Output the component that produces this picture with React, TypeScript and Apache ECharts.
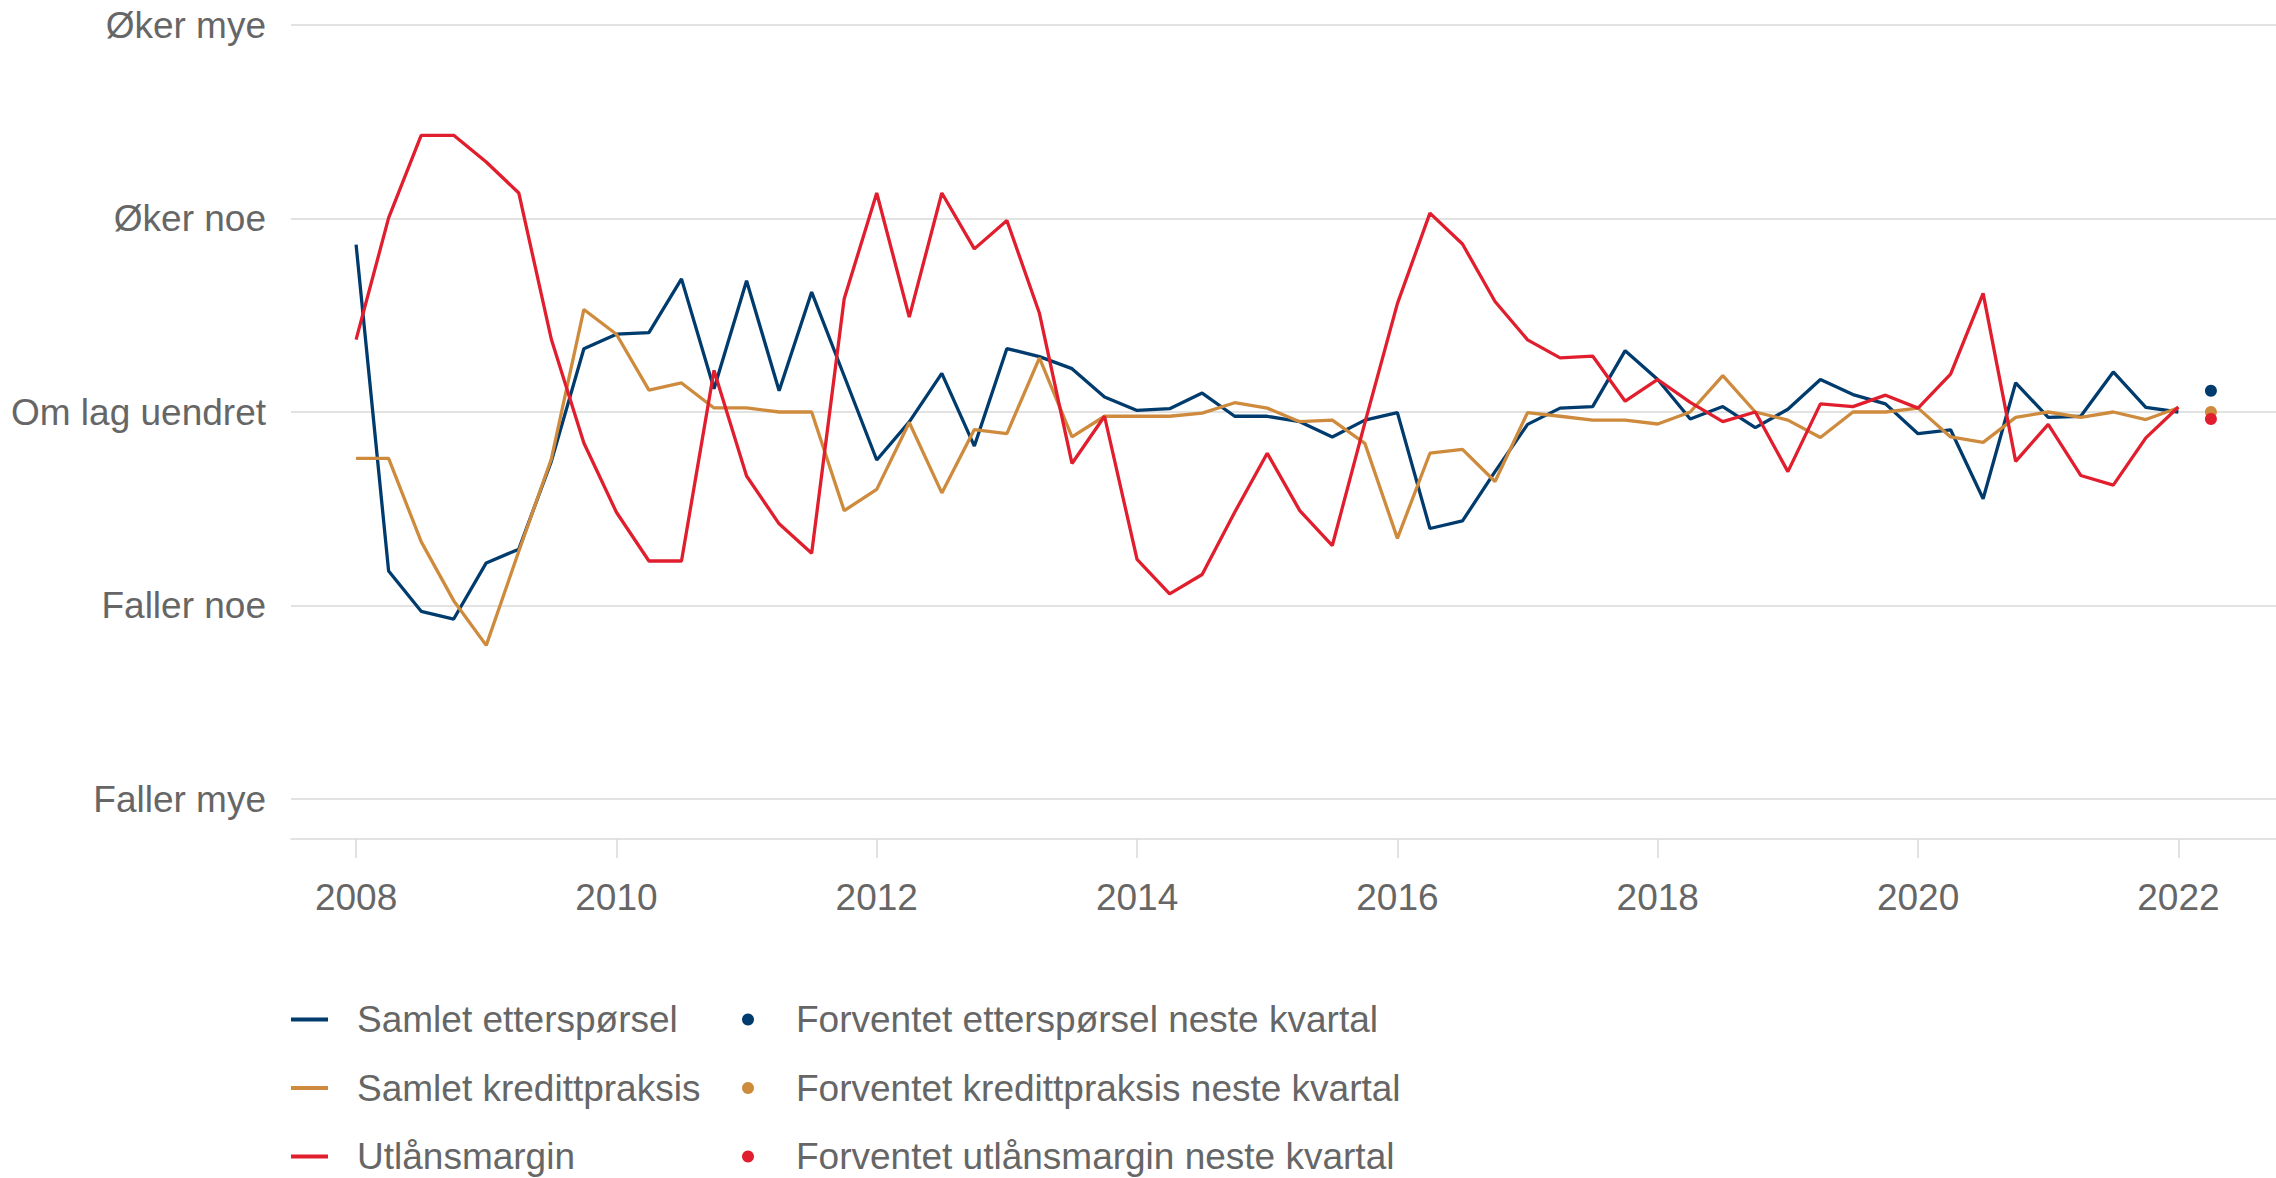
import React, { useEffect, useRef } from "react";
import * as echarts from "echarts";

const startYear = 2008;
const forecastX = 2022.25;

const yTickLabels: Record<string, string> = {
  "-2": "Faller mye",
  "-1": "Faller noe",
  "0": "Om lag uendret",
  "1": "Øker noe",
  "2": "Øker mye",
};
const xTickYears = [2008, 2010, 2012, 2014, 2016, 2018, 2020, 2022];

const names = [
  "Samlet etterspørsel",
  "Samlet kredittpraksis",
  "Utlånsmargin",
];
const dotNames = [
  "Forventet etterspørsel neste kvartal",
  "Forventet kredittpraksis neste kvartal",
  "Forventet utlånsmargin neste kvartal",
];
const colors = ["#003B6E", "#CE8B3D", "#E01E2D"];

const ettersporsel = [
  0.865, -0.822, -1.03, -1.07, -0.78, -0.709, -0.255, 0.327, 0.402, 0.41,
  0.688, 0.12, 0.678, 0.11, 0.62, 0.186, -0.248, -0.051, 0.2, -0.176,
  0.328, 0.286, 0.224, 0.078, 0.008, 0.017, 0.098, -0.022, -0.022, -0.05,
  -0.129, -0.042, -0.003, -0.602, -0.563, -0.308, -0.064, 0.02, 0.028, 0.317,
  0.168, -0.036, 0.028, -0.081, 0.014, 0.168, 0.09, 0.042, -0.112, -0.092,
  -0.448, 0.151, -0.028, -0.022, 0.207, 0.024, 0.0,
];
const kredittpraksis = [
  -0.24, -0.24, -0.67, -0.975, -1.206, -0.72, -0.243, 0.53, 0.402, 0.113,
  0.15, 0.021, 0.021, 0, 0, -0.51, -0.4, -0.054, -0.418, -0.091,
  -0.112, 0.28, -0.129, -0.022, -0.022, -0.022, -0.006, 0.048, 0.02, -0.05,
  -0.042, -0.162, -0.653, -0.213, -0.193, -0.359, -0.003, -0.022, -0.042, -0.042,
  -0.062, 0, 0.188, 0, -0.042, -0.132, 0, 0, 0.02, -0.129,
  -0.157, -0.028, 0, -0.028, 0, -0.039, 0.022,
];
const utlansmargin = [
  0.374, 1.003, 1.43, 1.43, 1.292, 1.132, 0.376, -0.16, -0.518, -0.77,
  -0.77, 0.215, -0.331, -0.578, -0.73, 0.585, 1.132, 0.49, 1.132, 0.843,
  0.99, 0.51, -0.266, -0.022, -0.762, -0.94, -0.84, -0.518, -0.213, -0.51,
  -0.69, -0.056, 0.56, 1.028, 0.868, 0.571, 0.373, 0.28, 0.289, 0.056,
  0.168, 0.05, -0.05, 0, -0.308, 0.042, 0.028, 0.087, 0.02, 0.196,
  0.613, -0.255, -0.064, -0.328, -0.378, -0.134, 0.026,
];
const forventet = [0.11, 0, -0.036];

const TEXT = "#666666";
const GRID = "#D9D9D9";
const FONT = "Liberation Sans, Arial, sans-serif";

export default function App() {
  const ref = useRef<HTMLDivElement>(null);
  useEffect(() => {
    if (!ref.current) return;
    const chart = echarts.init(ref.current, undefined, { renderer: "svg" });
    const lines = [ettersporsel, kredittpraksis, utlansmargin];
    const toPairs = (arr: number[]) =>
      arr.map((v, i) => [startYear + i / 4, v]);

    const series: any[] = lines.map((arr, k) => ({
      name: names[k],
      type: "line",
      data: toPairs(arr),
      showSymbol: false,
      symbol: "none",
      lineStyle: { color: colors[k], width: 3.3 },
      itemStyle: { color: colors[k] },
      z: 2 + k,
    }));
    forventet.forEach((v, k) => {
      series.push({
        name: dotNames[k],
        type: "scatter",
        data: [[forecastX, v]],
        symbol: "circle",
        symbolSize: 12,
        itemStyle: { color: colors[k], opacity: 1 },
        z: 6 + k,
      });
    });

    const legendText = {
      color: TEXT,
      fontSize: 37,
      fontFamily: FONT,
      lineHeight: 37,
    };

    chart.setOption({
      animation: false,
      backgroundColor: "#ffffff",
      textStyle: { fontFamily: FONT },
      grid: { left: 291, right: 0, top: 25, bottom: 379, containLabel: false },
      xAxis: {
        type: "value",
        min: 2007.5,
        max: 2022.75,
        offset: 40,
        axisLine: {
          show: true,
          onZero: false,
          lineStyle: { color: GRID, width: 1.5 },
        },
        axisTick: {
          show: true,
          length: 19,
          lineStyle: { color: GRID, width: 1.5 },
          customValues: xTickYears,
        },
        axisLabel: {
          color: TEXT,
          fontSize: 37,
          fontFamily: FONT,
          margin: 40,
          customValues: xTickYears,
          formatter: (v: number) => String(Math.round(v)),
        },
        splitLine: { show: false },
      },
      yAxis: {
        type: "value",
        min: -2,
        max: 2,
        interval: 1,
        axisLine: { show: false },
        axisTick: { show: false },
        axisLabel: {
          color: TEXT,
          fontSize: 37,
          fontFamily: FONT,
          margin: 25,
          formatter: (v: number) => yTickLabels[String(Math.round(v))] ?? "",
        },
        splitLine: { show: true, lineStyle: { color: GRID, width: 1.5 } },
      },
      legend: [
        {
          data: names,
          orient: "vertical",
          left: 291,
          top: 1001,
          padding: 0,
          height: 177,
          icon: "rect",
          itemWidth: 37,
          itemHeight: 4,
          itemGap: 31.5,
          textStyle: { ...legendText, padding: [0, 0, 0, 24] },
        },
        {
          data: dotNames,
          orient: "vertical",
          left: 742,
          top: 1001,
          padding: 0,
          height: 177,
          icon: "circle",
          itemWidth: 12,
          itemHeight: 12,
          itemGap: 31.5,
          itemStyle: { opacity: 1 },
          textStyle: { ...legendText, padding: [0, 0, 0, 37] },
        },
      ],
      series,
    });
    return () => chart.dispose();
  }, []);
  return (
    <div
      ref={ref}
      style={{ position: "fixed", left: 0, top: 0, width: 2276, height: 1178 }}
    />
  );
}
